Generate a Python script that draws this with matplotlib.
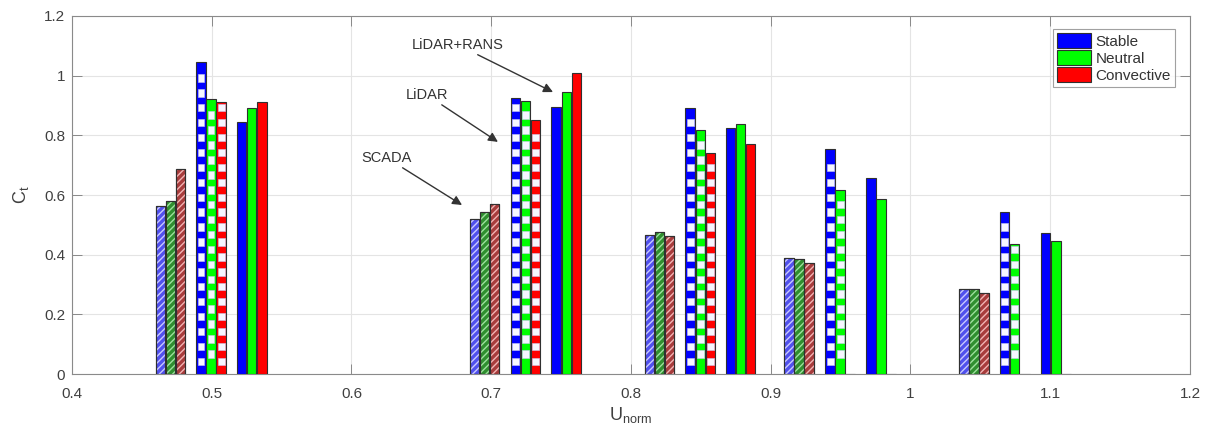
import numpy as np
import matplotlib.pyplot as plt

plt.rcParams['font.family'] = ['Liberation Sans', 'DejaVu Sans']

# Wind speed positions (U_norm) of each measurement set
u_scada = [0.4705, 0.6952, 0.8204, 0.9204, 1.0454]
u_lidar = [0.4995, 0.7245, 0.8497, 0.9498, 1.0745]
u_rans = [0.5285, 0.7538, 0.8784, 0.9790, 1.1039]

# Thrust coefficient per stability class
scada_stable = [0.564, 0.520, 0.465, 0.388, 0.286]
scada_neutral = [0.580, 0.542, 0.475, 0.387, 0.284]
scada_convective = [0.686, 0.569, 0.464, 0.371, 0.273]

lidar_stable = [1.047, 0.925, 0.893, 0.754, 0.544]
lidar_neutral = [0.923, 0.914, 0.819, 0.617, 0.437]
lidar_convective = [0.911, 0.853, 0.740, 0.0, 0.0]

rans_stable = [0.845, 0.896, 0.826, 0.657, 0.474]
rans_neutral = [0.893, 0.945, 0.838, 0.588, 0.447]
rans_convective = [0.911, 1.008, 0.771, 0.0, 0.0]

classes = ['Stable', 'Neutral', 'Convective']
colors = ['#0000ff', '#00ff00', '#ff0000']
scada_face = ['#5050ee', '#2f8f2f', '#a83c3c']
scada_hatch = ['#c8c8ff', '#9ee09e', '#f2b4b4']

w = 0.0070
step = 0.0072
offsets = [-step, 0.0, step]
edge = '#303030'

fig = plt.figure(figsize=(12.06, 4.30), dpi=100)
ax = fig.add_axes([0.0597, 0.1302, 0.927, 0.8326])

plt.rcParams['hatch.linewidth'] = 1.0

# SCADA: hatched bars
for vals, off, fc, hc in zip([scada_stable, scada_neutral, scada_convective],
                             offsets, scada_face, scada_hatch):
    x = np.array(u_scada) + off
    ax.bar(x, vals, width=w, color=fc, edgecolor=edge, linewidth=0.8, zorder=3)
    ax.bar(x, vals, width=w, color='none', edgecolor=hc, hatch='/////',
           linewidth=0, zorder=4)
    ax.bar(x, vals, width=w, color='none', edgecolor=edge, linewidth=0.8, zorder=5)

# LiDAR: checkered bars
period = 0.05
sq = 0.025
for i, (vals, off, c) in enumerate(zip([lidar_stable, lidar_neutral, lidar_convective],
                                       offsets, colors)):
    x = np.array(u_lidar) + off
    ax.bar(x, vals, width=w, color=c, edgecolor=edge, linewidth=0.8, zorder=3)
    phase = 0.03 if i != 1 else 0.03 + period / 2
    for xi, h in zip(x, vals):
        bottoms = np.arange(phase, h - sq - 0.005, period)
        ax.bar(np.full(len(bottoms), xi), sq, bottom=bottoms, width=w * 0.7,
               color='#f6f6ff', edgecolor='#c8c8f0', linewidth=0.4, zorder=4)

# LiDAR+RANS: solid bars
for vals, off, c in zip([rans_stable, rans_neutral, rans_convective], offsets, colors):
    x = np.array(u_rans) + off
    ax.bar(x, vals, width=w, color=c, edgecolor=edge, linewidth=0.8, zorder=3)

ax.set_xlim(0.4, 1.2)
ax.set_ylim(0, 1.2)
ax.set_xticks(np.arange(0.4, 1.21, 0.1))
ax.set_xticklabels(['0.4', '0.5', '0.6', '0.7', '0.8', '0.9', '1', '1.1', '1.2'])
ax.set_yticks(np.arange(0, 1.21, 0.2))
ax.set_yticklabels(['0', '0.2', '0.4', '0.6', '0.8', '1', '1.2'])
ax.grid(True, color='#e4e4e4', linewidth=0.8, zorder=0)
ax.set_axisbelow(True)
ax.tick_params(direction='in', length=7, width=0.6, colors='#7a7a7a',
               labelcolor='#404040', labelsize=11, top=True, right=True)
ax.tick_params(axis='x', pad=9)
ax.tick_params(axis='y', pad=5)
for s in ax.spines.values():
    s.set_color('#8a8a8a')
    s.set_linewidth(0.8)

ax.set_xlabel(r'$\mathregular{U_{norm}}$', fontsize=13, color='#404040', labelpad=3)
ax.set_ylabel(r'$\mathregular{C_{t}}$', fontsize=13, color='#404040', labelpad=9)

# Annotations pointing at each data set
arrow = dict(arrowstyle='-|>', color='#333333', lw=1.0, mutation_scale=14,
             shrinkA=0, shrinkB=0)
ax.annotate('LiDAR+RANS', xy=(0.7442, 0.945), xytext=(0.6762, 1.103),
            ha='center', va='center', fontsize=10.5, color='#333333', arrowprops=arrow)
ax.annotate('LiDAR', xy=(0.7048, 0.778), xytext=(0.654, 0.935),
            ha='center', va='center', fontsize=10.5, color='#333333', arrowprops=arrow)
ax.annotate('SCADA', xy=(0.6791, 0.5665), xytext=(0.6254, 0.724),
            ha='center', va='center', fontsize=10.5, color='#333333', arrowprops=arrow)

handles = [plt.Rectangle((0, 0), 1, 1, facecolor=c, edgecolor=edge, linewidth=0.8)
           for c in colors]
leg = ax.legend(handles, classes, loc='upper right', bbox_to_anchor=(0.987, 0.965),
                fontsize=11, frameon=True, fancybox=False, handlelength=2.2,
                handleheight=1.1, handletextpad=0.3, labelspacing=0.1,
                borderpad=0.3, borderaxespad=0)
leg.get_frame().set_edgecolor('#8a8a8a')
leg.get_frame().set_linewidth(0.8)
for t in leg.get_texts():
    t.set_color('#333333')

fig.savefig('out.png', dpi=100, facecolor='white')
